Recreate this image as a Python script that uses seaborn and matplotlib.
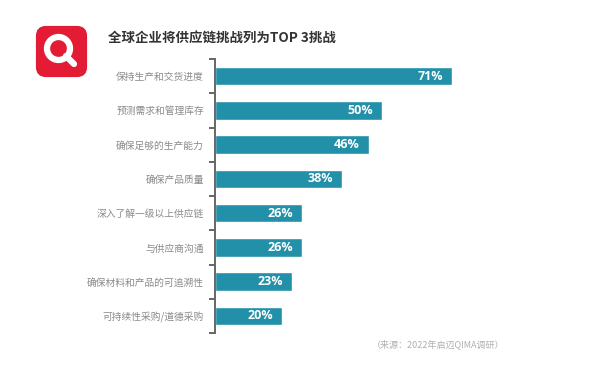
import matplotlib
matplotlib.use("Agg")
import matplotlib.pyplot as plt
import numpy as np
import pandas as pd
import seaborn as sns
from matplotlib.patches import FancyBboxPatch, Circle

# data
challenges = ["保持生产和交货进度", "预测需求和管理库存", "确保足够的生产能力", "确保产品质量",
              "深入了解一级以上供应链", "与供应商沟通", "确保材料和产品的可追溯性", "可持续性采购/道德采购"]
shares = [71, 50, 46, 38, 26, 26, 23, 20]
title = "全球企业将供应链挑战列为TOP 3挑战"
source = "（来源：2022年启迈QIMA调研）"

df = pd.DataFrame({"challenge": challenges, "share": shares})

sns.set_style("white")
plt.rcParams["font.family"] = ["Noto Sans CJK SC", "DejaVu Sans"]

bar_color = "#2190a8"

fig = plt.figure(figsize=(5.99, 3.76), dpi=100)
ax = fig.add_axes([215 / 599, 1 - 333 / 376, 384 / 599, 274 / 376])

sns.barplot(data=df, x="share", y="challenge", color=bar_color, width=0.54,
            saturation=1, ax=ax)
ax.set_xlim(0, 115)
ax.set_ylim(len(challenges) - 0.5, -0.5)

# value labels inside bars
for i, v in enumerate(shares):
    ax.text(v - 2.6, i, f"{v}%", color="white", fontsize=9, fontweight="bold",
            family=["Open Sans", "DejaVu Sans"], ha="right", va="center")

# left spine with ticks at category boundaries
for s in ["top", "right", "bottom"]:
    ax.spines[s].set_visible(False)
ax.spines["left"].set_color("#666666")
ax.spines["left"].set_linewidth(1.4)
ax.set_xticks([])
ax.set_yticks(np.arange(-0.5, len(challenges), 1.0))
ax.set_yticklabels([])
ax.tick_params(axis="y", which="major", left=True, length=4, width=1.4,
               color="#666666", direction="out")
ax.set_yticks(np.arange(len(challenges)), minor=True)
ax.set_yticklabels(challenges, minor=True, fontsize=7, color="#8a8a8a")
ax.tick_params(axis="y", which="minor", left=True, length=0, pad=8)
ax.set_xlabel("")
ax.set_ylabel("")

# title and source
fig.text(108 / 599, 1 - 38 / 376, title, fontsize=9.7, fontweight="bold",
         color="#333333", ha="left", va="center")
fig.text(372 / 599, 1 - 344 / 376, source, fontsize=6.5, color="#b0b0b0",
         ha="left", va="center")

# logo
lax = fig.add_axes([35 / 599, 1 - 78 / 376, 53 / 599, 53 / 376])
lax.set_xlim(0, 53)
lax.set_ylim(53, 0)
lax.set_aspect("equal")
lax.axis("off")
lax.add_patch(FancyBboxPatch((3, 3), 47, 47, boxstyle="round,pad=0,rounding_size=8",
                             facecolor="#e31b35", edgecolor="#e31b35", lw=3))
lax.plot([31, 39], [31, 39], color="white", lw=4.5, solid_capstyle="round")
lax.add_patch(Circle((23.5, 23.5), 11.5, facecolor="none", edgecolor="white", lw=4.5))

fig.savefig("out.png", dpi=100, facecolor="white")
